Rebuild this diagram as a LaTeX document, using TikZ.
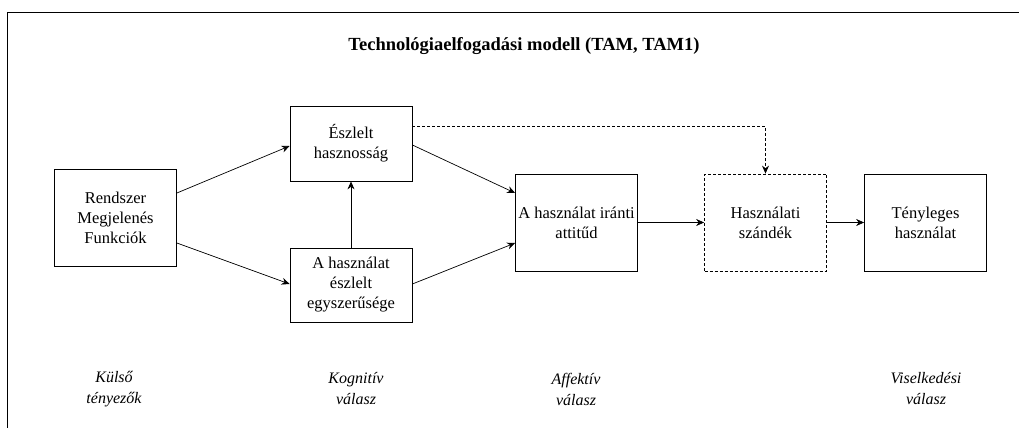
\documentclass[tikz,border=0pt]{standalone}
\usepackage{fontspec}
\setmainfont{Liberation Serif}
\usetikzlibrary{arrows.meta}
\begin{document}
\begin{tikzpicture}[x=1pt,y=-1pt,
  box/.style={draw, line width=0.8pt, minimum width=122pt, align=center,
    font=\fontsize{16.5}{20}\selectfont, inner sep=1pt},
  tallbox/.style={box, minimum height=97pt},
  dashbox/.style={tallbox, dashed, dash pattern=on 3pt off 2pt},
  conn/.style={-{Stealth[length=8pt,width=7pt]}, line width=0.7pt},
  layer/.style={align=center, font=\fontsize{16}{21}\selectfont\itshape}]
\useasboundingbox (0,0) rectangle (1019,428);
% outer frame: top and left edges
\draw[line width=0.9pt] (1019,12) -- (7,12) -- (7,428);
\node[font=\fontsize{18.5}{22}\selectfont\bfseries] (title) at (524,46)
  {Technológiaelfogadási modell (TAM, TAM1)};
% boxes
\node[box, minimum height=97pt] (ext) at (115.5,217.5) {Rendszer\\Megjelenés\\Funkciók};
\node[box, minimum height=75pt] (pu) at (351,143.5) {Észlelt\\hasznosság};
\node[box, minimum height=74pt] (peou) at (351,285) {A használat\\észlelt\\egyszerűsége};
\node[tallbox] (att) at (576.5,222.5) {A használat iránti\\attitűd};
\node[dashbox] (bi) at (765.5,222.5) {Használati\\szándék};
\node[tallbox] (use) at (925.5,222.5) {Tényleges\\használat};
% connectors
\draw[conn] ([yshift=24.5pt]ext.east) -- ([yshift=-2.5pt]pu.west);
\draw[conn] ([yshift=-25.5pt]ext.east) -- ([yshift=1pt]peou.west);
\draw[conn] (peou.north) -- (pu.south);
\draw[conn] ([yshift=-1.5pt]pu.east) -- ([yshift=29.5pt]att.west);
\draw[conn] ([yshift=1pt]peou.east) -- ([yshift=-20.5pt]att.west);
\draw[conn] (att.east) -- (bi.west);
\draw[conn] (bi.east) -- (use.west);
\draw[conn, dashed, dash pattern=on 3pt off 2pt] ([yshift=17.5pt]pu.east) -| (bi.north);
% layer labels
\node[layer] (l1) at (114,389) {Külső\\tényezők};
\node[layer] (l2) at (356,389) {Kognitív\\válasz};
\node[layer] (l3) at (576,389) {Affektív\\válasz};
\node[layer] (l4) at (926,389) {Viselkedési\\válasz};
\end{tikzpicture}
\end{document}
